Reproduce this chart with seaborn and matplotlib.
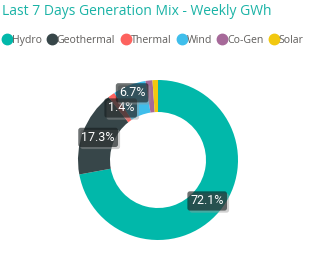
import numpy as np
import seaborn as sns
import matplotlib.pyplot as plt
import matplotlib.patheffects as pe

# data
sources = ["Hydro", "Geothermal", "Thermal", "Wind", "Co-Gen", "Solar"]
share = [72.1, 17.3, 1.4, 6.7, 1.4, 1.1]
shown_labels = ["72.1%", "17.3%", "1.4%", "6.7%", "", ""]
colors = ["#01B8AA", "#374649", "#FD625E", "#3FBEEB", "#A66999", "#F2C80F"]

sns.set_theme(style="white")
plt.rcParams['font.family'] = ['Open Sans', 'DejaVu Sans']

fig = plt.figure(figsize=(3.12, 2.69), dpi=100)
fig.patch.set_facecolor("white")

# title + legend
fig.text(0.008, 0.985, "Last 7 Days Generation Mix - Weekly GWh", ha="left", va="top",
         fontsize=10, color="#1AB3A6")
handles = [plt.Line2D([], [], marker="o", ls="", color=c, markersize=7.5) for c in colors]
leg = fig.legend(handles, sources, loc="upper left", bbox_to_anchor=(-0.012, 0.885), ncol=6,
                 frameon=False, fontsize=7.6, handletextpad=-0.15, columnspacing=0.4,
                 borderaxespad=0, handlelength=1.2)
for t in leg.get_texts():
    t.set_color("#605E5C")

# donut: centre ~(158,160) px, radius ~80 px
cx, cy, R = 158 / 312, 1 - 160 / 269, 80
ax = fig.add_axes([cx - R / 312, cy - R / 269, 2 * R / 312, 2 * R / 269])
wedges, _ = ax.pie(share, colors=colors, startangle=90, counterclock=False,
                   wedgeprops=dict(width=0.4, edgecolor="none"), radius=1)
ax.set_xlim(-1, 1)
ax.set_ylim(-1, 1)
ax.set_aspect("equal")
ax.axis("off")

# labels in the middle of the ring
label_dist = [0.8, 0.8, 0.8, 0.9, 0.8, 0.8]
for w, lab, d in zip(wedges, shown_labels, label_dist):
    if not lab:
        continue
    mid = np.deg2rad((w.theta1 + w.theta2) / 2)
    t = ax.text(d * np.cos(mid), d * np.sin(mid), lab, ha="center", va="center",
                fontsize=9, color="white", zorder=5, family=["Roboto", "DejaVu Sans"],
                bbox=dict(boxstyle="round,pad=0.25,rounding_size=0.2", fc="#141b1c", ec="none", alpha=0.62))
    t.get_bbox_patch().set_path_effects([
        pe.SimplePatchShadow(offset=(1.5, -1.5), shadow_rgbFace="#9a9a9a", alpha=0.45), pe.Normal()])

fig.savefig("out.png", dpi=100)
